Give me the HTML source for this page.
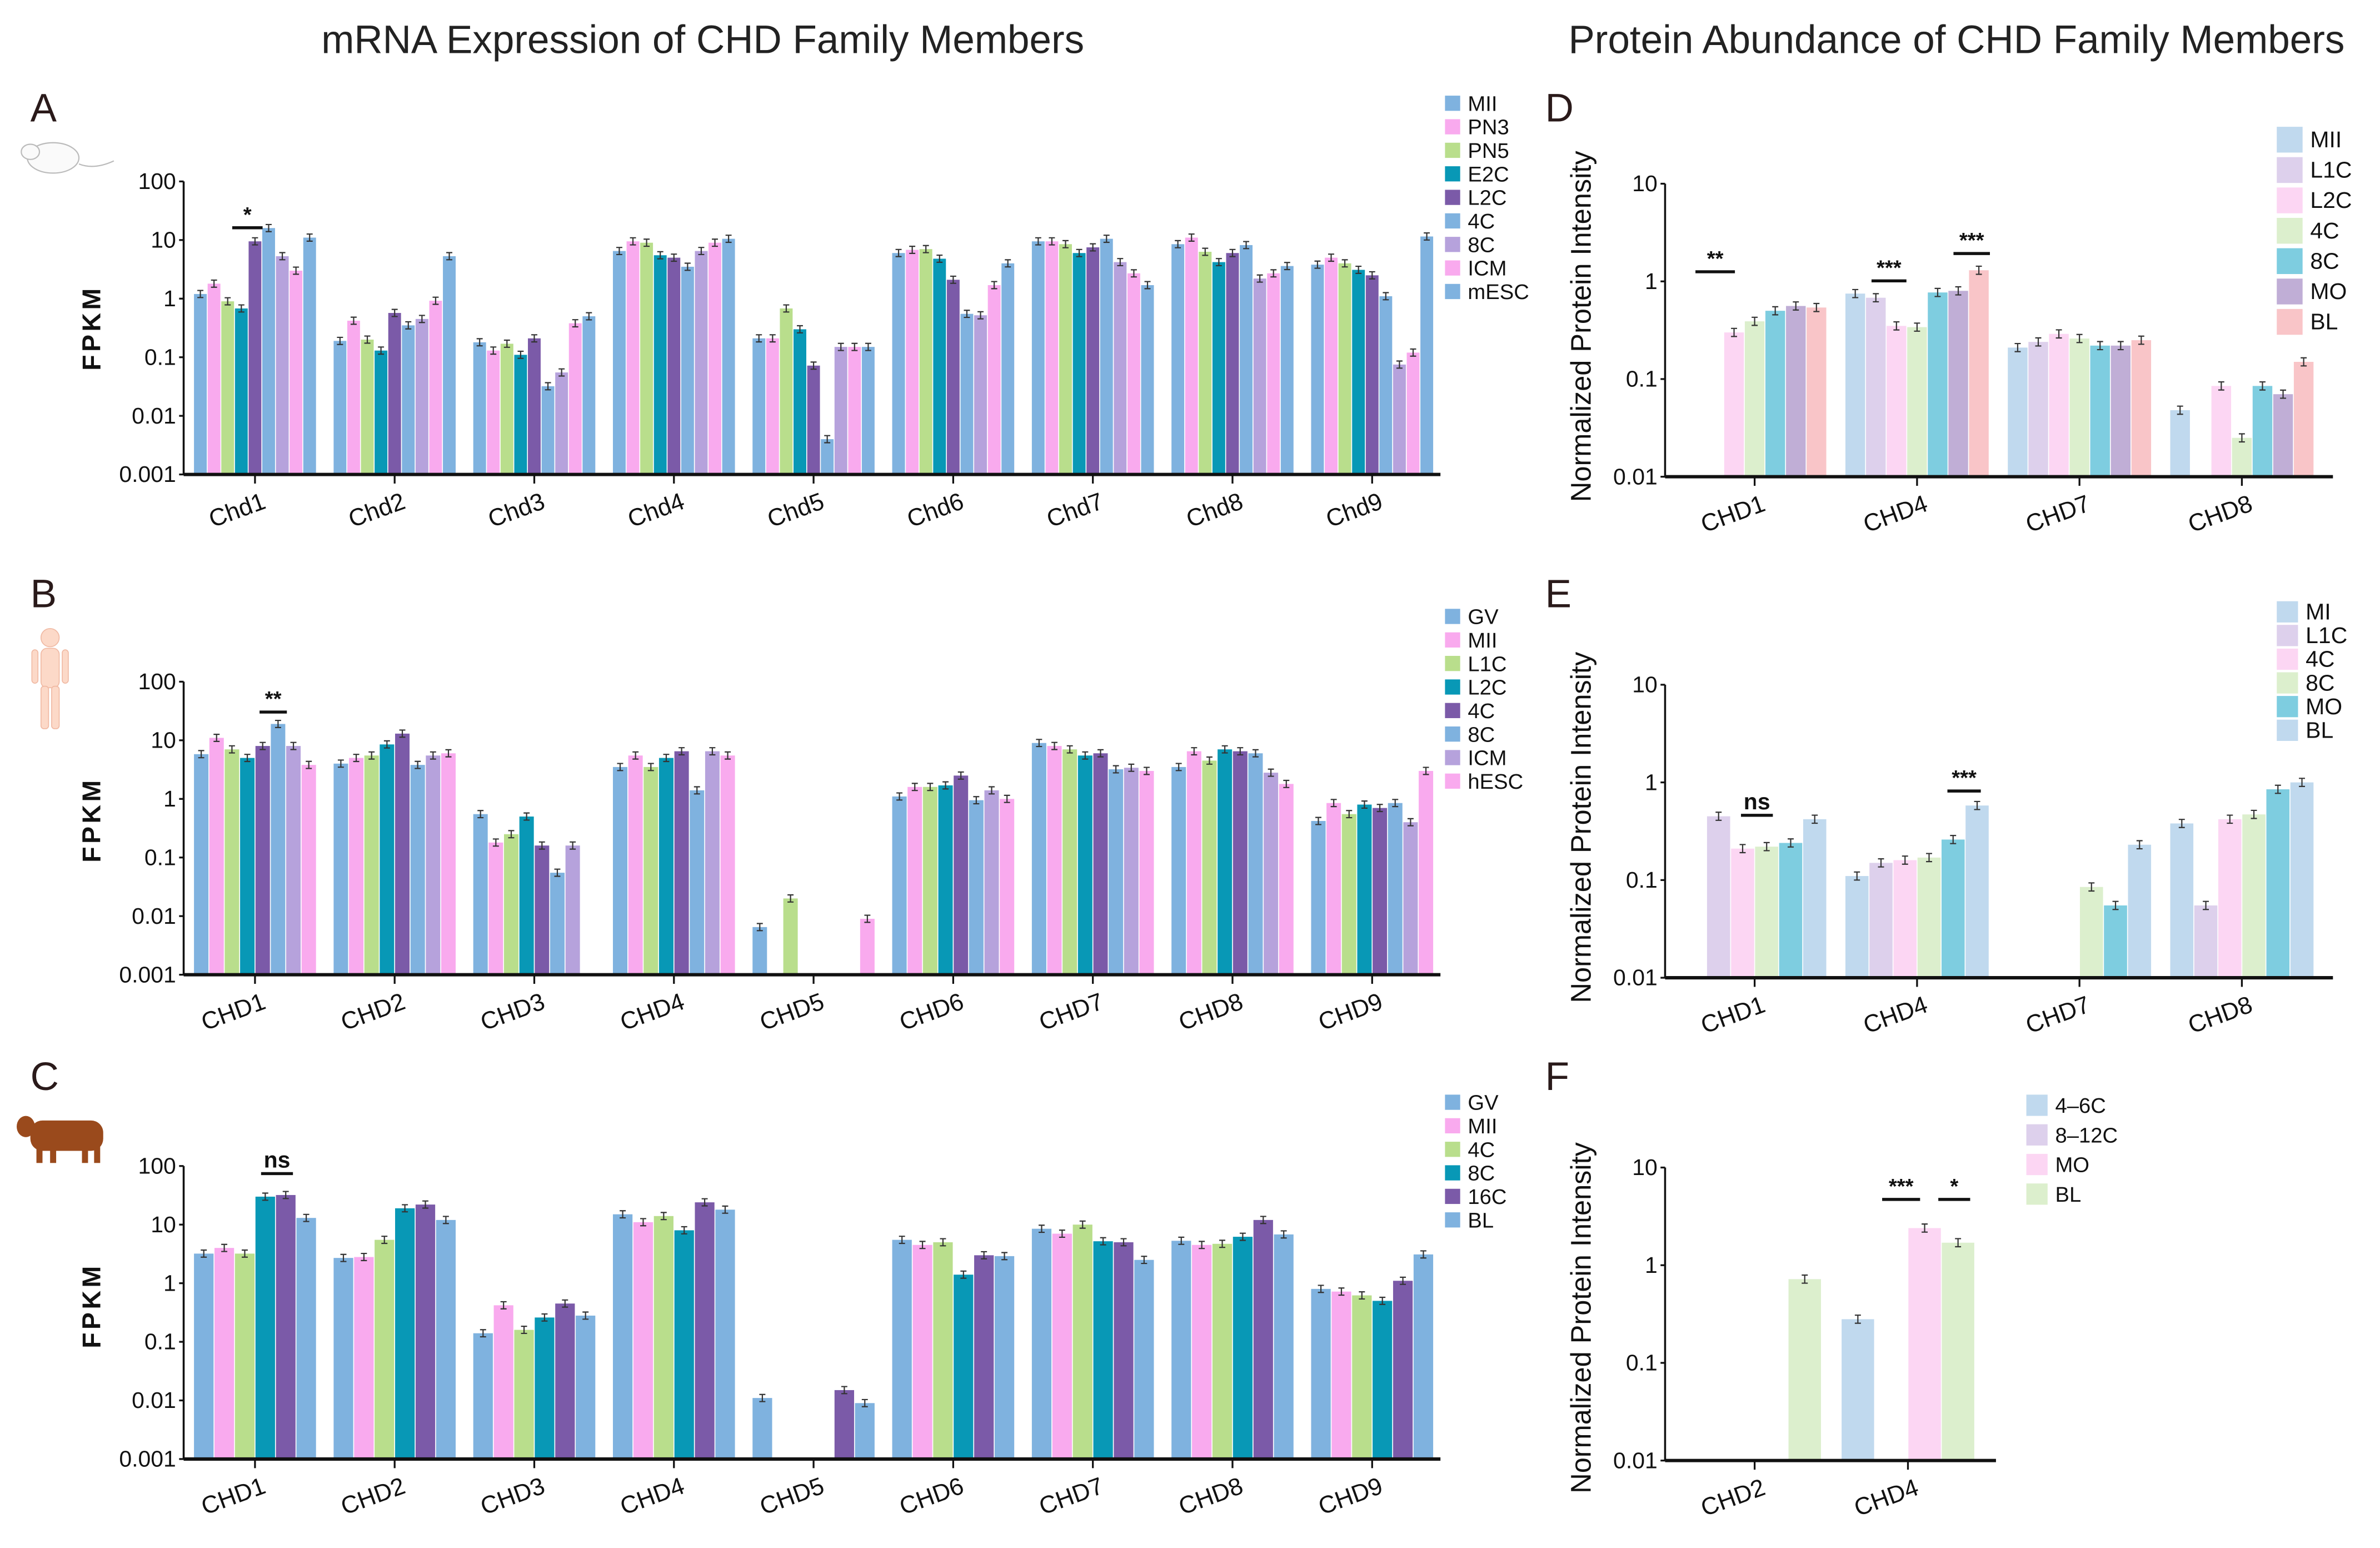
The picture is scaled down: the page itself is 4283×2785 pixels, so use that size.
<!DOCTYPE html>
<html><head><meta charset="utf-8">
<style>
html,body{margin:0;padding:0;background:#fff;}
svg{display:block;font-family:"Liberation Sans",Arial,sans-serif;}
</style></head>
<body>
<svg id="fig" width="4283" height="2785" viewBox="0 0 1568 1019.6" preserveAspectRatio="none" xmlns="http://www.w3.org/2000/svg">
<text x="463" y="35" font-size="26" text-anchor="middle" fill="#222">mRNA Expression of CHD Family Members</text>
<text x="1289" y="35" font-size="26" text-anchor="middle" fill="#222">Protein Abundance of CHD Family Members</text>
<text x="20" y="80" font-size="26" fill="#2a1a1a">A</text>
<text x="20" y="400" font-size="26" fill="#2a1a1a">B</text>
<text x="20" y="718" font-size="26" fill="#2a1a1a">C</text>
<text x="1018" y="80" font-size="26" fill="#2a1a1a">D</text>
<text x="1018" y="400" font-size="26" fill="#2a1a1a">E</text>
<text x="1018" y="718" font-size="26" fill="#2a1a1a">F</text>
<g fill="#fafafa" stroke="#bbb" stroke-width="0.8">
<ellipse cx="35" cy="104" rx="17" ry="10"/><ellipse cx="20" cy="100" rx="6" ry="5"/><path d="M52 108 Q62 112 75 106" fill="none"/>
</g>
<g fill="#fcd9c8" stroke="#f0b9a3" stroke-width="0.6">
<circle cx="33" cy="420" r="6"/><rect x="27" y="427" width="12" height="26" rx="4"/><rect x="21" y="428" width="4" height="22" rx="2"/><rect x="41" y="428" width="4" height="22" rx="2"/><rect x="27" y="452" width="5" height="28" rx="2"/><rect x="34" y="452" width="5" height="28" rx="2"/>
</g>
<g fill="#9a4a1c">
<rect x="20" y="738" width="48" height="20" rx="8"/><ellipse cx="17" cy="742" rx="6" ry="7"/><rect x="24" y="754" width="4" height="12"/><rect x="33" y="754" width="4" height="12"/><rect x="54" y="754" width="4" height="12"/><rect x="62" y="754" width="4" height="12"/>
</g>
</svg>
<script>
// ---------- DATA ----------
const catsLower = ["Chd1","Chd2","Chd3","Chd4","Chd5","Chd6","Chd7","Chd8","Chd9"];
const catsUpper = ["CHD1","CHD2","CHD3","CHD4","CHD5","CHD6","CHD7","CHD8","CHD9"];
const fpkmTicks = ["100","10","1","0.1","0.01","0.001"];
const protTicks = ["10","1","0.1","0.01"];

const seriesA = ["MII","PN3","PN5","E2C","L2C","4C","8C","ICM","mESC"];
const valuesA = [
 [1.2,1.8,0.9,0.68,9.5,16,5.3,3.0,11],
 [0.19,0.42,0.2,0.13,0.57,0.35,0.45,0.92,5.3],
 [0.18,0.13,0.17,0.11,0.21,0.032,0.055,0.38,0.5],
 [6.5,9.5,9,5.5,5,3.5,6.5,9,10.5],
 [0.21,0.21,0.68,0.3,0.072,0.004,0.15,0.15,0.15],
 [6,6.8,7,4.8,2.1,0.55,0.52,1.7,4],
 [9.5,9.5,8.5,6,7.5,10.5,4.2,2.7,1.7],
 [8.5,11,6.3,4.2,6,8.2,2.2,2.7,3.6],
 [3.8,5,4,3.1,2.5,1.1,0.075,0.12,11.5]];

const seriesB = ["GV","MII","L1C","L2C","4C","8C","ICM","hESC"];
const valuesB = [
 [5.8,11,7,5,8,19,8,3.8],
 [4,5,5.5,8.5,13,3.8,5.5,6],
 [0.55,0.18,0.25,0.5,0.16,0.055,0.16,0],
 [3.5,5.5,3.5,5,6.5,1.4,6.5,5.5],
 [0.0065,0,0.02,0,0,0,0,0.009],
 [1.1,1.6,1.6,1.7,2.5,0.95,1.4,1.0],
 [9,8,7,5.5,6,3.2,3.4,3],
 [3.5,6.5,4.5,7,6.5,6,2.8,1.8],
 [0.42,0.85,0.55,0.8,0.7,0.85,0.4,3]];

const seriesC = ["GV","MII","4C","8C","16C","BL"];
const valuesC = [
 [3.2,4,3.2,30,32,13],
 [2.7,2.8,5.5,19,22,12],
 [0.14,0.42,0.16,0.26,0.45,0.28],
 [15,11,14,8,24,18],
 [0.011,0,0,0,0.015,0.009],
 [5.5,4.5,5,1.4,3,2.9],
 [8.5,7,10,5.2,5,2.5],
 [5.3,4.5,4.7,6.2,12,6.8],
 [0.8,0.72,0.62,0.5,1.1,3.1]];

const catsD = ["CHD1","CHD4","CHD7","CHD8"];
const seriesD = ["MII","L1C","L2C","4C","8C","MO","BL"];
const valuesD = [
 [0,0,0.3,0.39,0.5,0.56,0.54],
 [0.75,0.68,0.35,0.34,0.77,0.8,1.3],
 [0.21,0.24,0.29,0.26,0.22,0.22,0.25],
 [0.048,0,0.085,0.025,0.085,0.07,0.15]];

const catsE = ["CHD1","CHD4","CHD7","CHD8"];
const seriesE = ["MI","L1C","4C","8C","MO","BL"];
const valuesE = [
 [0,0.45,0.21,0.22,0.24,0.42],
 [0.11,0.15,0.16,0.17,0.26,0.58],
 [0,0,0,0.085,0.055,0.23],
 [0.38,0.055,0.42,0.47,0.85,1.0]];

const catsF = ["CHD2","CHD4"];
const seriesF = ["4\u20136C","8\u201312C","MO","BL"];
const valuesF = [
 [0,0,0,0.72],
 [0.28,0,2.4,1.7]];

// ---------- DRAW ----------
const NS="http://www.w3.org/2000/svg";
const svg=document.getElementById('fig');
function mk(tag,attrs,parent){const e=document.createElementNS(NS,tag);for(const k in attrs)e.setAttribute(k,attrs[k]);(parent||svg).appendChild(e);return e;}

const BLU="#7fb2df",PNK="#f9aaee",GRN="#b9de8c",TEA="#0898b6",PUR="#7b5aa8",LAV="#b6a2dc";
const colA=[BLU,PNK,GRN,TEA,PUR,BLU,LAV,PNK,BLU];
const colB=[BLU,PNK,GRN,TEA,PUR,BLU,LAV,PNK];
const colC=[BLU,PNK,GRN,TEA,PUR,BLU];
const pB="#c0d9ee",pL="#ddd0ec",pP="#fcd6f3",pG="#dcefcd",pT="#7ecde0",pM="#c0aed6",pR="#f9c5c8";
const colD=[pB,pL,pP,pG,pT,pM,pR];
const colE=[pB,pL,pP,pG,pT,pB];
const colF=[pB,pL,pP,pG];

function panel(o){
  const g=mk('g',{});
  
  
  const dec=(o.yBot-o.yTop)/(o.logMax-o.logMin);
  const y=v=>o.yBot-(Math.log10(v)-o.logMin)*dec;
  const nS=o.series.length;
  const bw=o.groupW/nS;
  o.values.forEach((row,gi)=>{
    const cx=o.x0+o.firstC+gi*o.step;
    row.forEach((v,si)=>{
      if(!v)return;
      const x=cx-o.groupW/2+si*bw;
      const yt=y(v);
      const r=mk('rect',{x:x+0.3,y:yt,width:bw-0.6,height:o.yBot-yt,fill:o.colors[si]},g);
      
      
      const e=o.err, yh=y(v*(1+e)), yl=Math.min(o.yBot,y(v/(1+e)));
      const xm=x+bw/2;
      mk('path',{d:`M${xm} ${yh}V${yl}M${xm-2} ${yh}H${xm+2}M${xm-2} ${yl}H${xm+2}`,stroke:'#333','stroke-width':0.8,fill:'none'},g);
    });
  });
  mk('line',{x1:o.x0,y1:o.yTop,x2:o.x0,y2:o.yBot,stroke:'#111','stroke-width':1.3},g);
  mk('line',{x1:o.x0,y1:o.yBot,x2:o.x1,y2:o.yBot,stroke:'#111','stroke-width':2.2},g);
  o.ticks.forEach((t,i)=>{
    const yy=o.yTop+i*dec;
    mk('line',{x1:o.x0-3,y1:yy,x2:o.x0,y2:yy,stroke:'#111','stroke-width':1.2},g);
    const tx=mk('text',{x:o.x0-5,y:yy+5,'font-size':15,'text-anchor':'end',fill:'#111'},g);
    tx.textContent=t;
    
    
  });
  o.cats.forEach((c,i)=>{
    const cx=o.x0+o.firstC+i*o.step;
    mk('line',{x1:cx,y1:o.yBot,x2:cx,y2:o.yBot+6,stroke:'#111','stroke-width':1.2},g);
    const tx=mk('text',{x:cx+8,y:o.yBot+22,'font-size':16,'text-anchor':'end',fill:'#111',transform:`rotate(-20 ${cx+8} ${o.yBot+22})`},g);
    tx.textContent=c;
    
    
  });
  const yl=mk('text',{x:o.ylx,y:o.ylc,'font-size':o.ylfs,'text-anchor':'middle',fill:'#111','font-weight':o.ylw||'normal',transform:`rotate(-90 ${o.ylx} ${o.ylc})`,'letter-spacing':o.yls||0,'xml:space':'preserve'},g);
  yl.textContent=o.ylabel;
  
  
  o.series.forEach((s,i)=>{
    const ly=o.legY+i*o.legStep;
    const sq=mk('rect',{x:o.legX,y:ly-o.sq/2,width:o.sq,height:o.sq,fill:o.colors[i]},g);
    
    
    const t=mk('text',{x:o.legX+o.sq+5,y:ly+5,'font-size':o.legFs,fill:'#111'},g);
    t.textContent=s;
    
    
  });
  (o.sig||[]).forEach(s=>{
    mk('line',{x1:s[0],y1:s[2],x2:s[1],y2:s[2],stroke:'#111','stroke-width':2},g);
    const t=mk('text',{x:(s[0]+s[1])/2,y:s[2]-4,'font-size':s[3]==='ns'?15:14,'text-anchor':'middle','font-weight':'bold',fill:'#111'},g);
    t.textContent=s[3];
    
    
  });
}

const common={x0:121,x1:949,firstC:47,step:92,groupW:81,logMin:-3,logMax:2,ticks:fpkmTicks,err:0.15,ylabel:'FPKM',ylfs:17,ylw:'bold',ylx:66,yls:2,sq:10,legStep:15.5,legFs:14,legX:952};
panel(Object.assign({},common,{name:'chart-a-mouse',cats:catsLower,series:seriesA,values:valuesA,colors:colA,yTop:119.5,yBot:312.5,ylc:216,legY:68,sig:[[153,173,150,'*']]}));
panel(Object.assign({},common,{name:'chart-b-human',cats:catsUpper,series:seriesB,values:valuesB,colors:colB,yTop:449,yBot:642,ylc:540,legY:406,sig:[[171,189,469,'**']]}));
panel(Object.assign({},common,{name:'chart-c-bovine',cats:catsUpper,series:seriesC,values:valuesC,colors:colC,yTop:768,yBot:961,ylc:860,legY:726,sig:[[172,193,773,'ns']]}));

const pc={x0:1097,x1:1537,firstC:59,step:107,groupW:95,logMin:-2,logMax:1,ticks:protTicks,err:0.1,ylabel:'Normalized  Protein  Intensity',ylfs:18.5,ylx:1048,sq:17,legStep:20,legFs:15,legX:1500};
panel(Object.assign({},pc,{name:'chart-d-mouse-protein',cats:catsD,series:seriesD,values:valuesD,colors:colD,yTop:121,yBot:314,ylc:215,legY:92,sig:[[1117,1143,179,'**'],[1233,1256,185,'***'],[1287,1311,167,'***']]}));
panel(Object.assign({},pc,{name:'chart-e-human-protein',cats:catsE,series:seriesE,values:valuesE,colors:colE,yTop:451,yBot:644,ylc:545,legY:403,legStep:15.6,sq:14,sig:[[1147,1168,537,'ns'],[1283,1305,521,'***']]}));
panel(Object.assign({},pc,{name:'chart-f-bovine-protein',x1:1315,firstC:59,step:101,groupW:88,cats:catsF,series:seriesF,values:valuesF,colors:colF,yTop:769,yBot:962,ylc:868,legY:728,legX:1335,sq:14,legStep:19.5,legFs:14,sig:[[1240,1265,790,'***'],[1277,1298,790,'*']]}));
</script>
</body></html>
